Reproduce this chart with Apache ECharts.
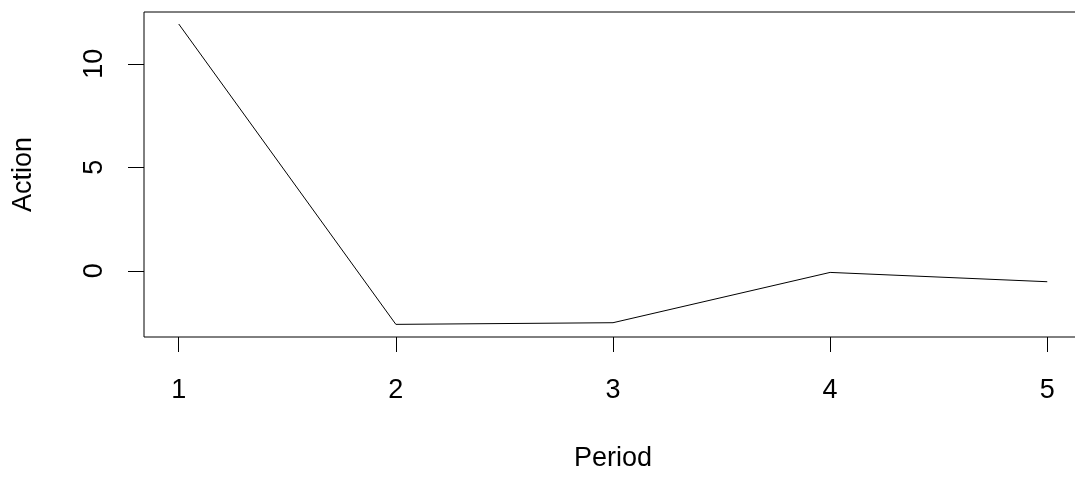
<!DOCTYPE html>
<html>
<head>
<meta charset="utf-8">
<script src="https://cdn.jsdelivr.net/npm/echarts@6/dist/echarts.min.js"></script>
<style>
html,body{margin:0;padding:0;background:#fff;}
#c{width:1075px;height:477px;}
</style>
</head>
<body>
<div id="c"></div>
<script>
const periods = [1, 2, 3, 4, 5];
const action = [11.92, -2.59, -2.51, -0.08, -0.53];
const xTicks = [1, 2, 3, 4, 5];
const yTicks = [0, 5, 10];

const font = 'Liberation Sans, Arial, sans-serif';
const chart = echarts.init(document.getElementById('c'), null, {renderer: 'canvas'});
chart.setOption({
  animation: false,
  backgroundColor: '#fff',
  grid: {left: 144, top: 12, width: 938, height: 325, show: true, borderColor: '#000', borderWidth: 1, backgroundColor: 'transparent', containLabel: false, outerBoundsMode: 'none'},
  xAxis: {
    type: 'value', min: 0.84, max: 5.16,
    name: 'Period', nameLocation: 'middle', nameGap: 108,
    nameTextStyle: {fontFamily: font, fontSize: 27, color: '#000'},
    axisLine: {show: false, onZero: false},
    splitLine: {show: false},
    axisTick: {show: true, inside: false, length: 15, lineStyle: {color: '#000', width: 1}, customValues: xTicks},
    axisLabel: {show: true, margin: 40, fontFamily: font, fontSize: 27, color: '#000', customValues: xTicks, formatter: v => String(v)}
  },
  yAxis: {
    type: 'value', min: -3.2, max: 12.5,
    name: 'Action', nameLocation: 'middle', nameGap: 107, nameRotate: 90,
    nameTextStyle: {fontFamily: font, fontSize: 27, color: '#000'},
    axisLine: {show: false, onZero: false},
    splitLine: {show: false},
    axisTick: {show: true, inside: false, length: 16, lineStyle: {color: '#000', width: 1}, customValues: yTicks},
    axisLabel: {show: true, rotate: 90, margin: 36, fontFamily: font, fontSize: 27, color: '#000', customValues: yTicks, formatter: v => String(v)}
  },
  series: [{
    type: 'line',
    data: periods.map((p, i) => [p, action[i]]),
    symbol: 'none',
    lineStyle: {color: '#000', width: 1},
    clip: false
  }]
});
</script>
</body>
</html>
